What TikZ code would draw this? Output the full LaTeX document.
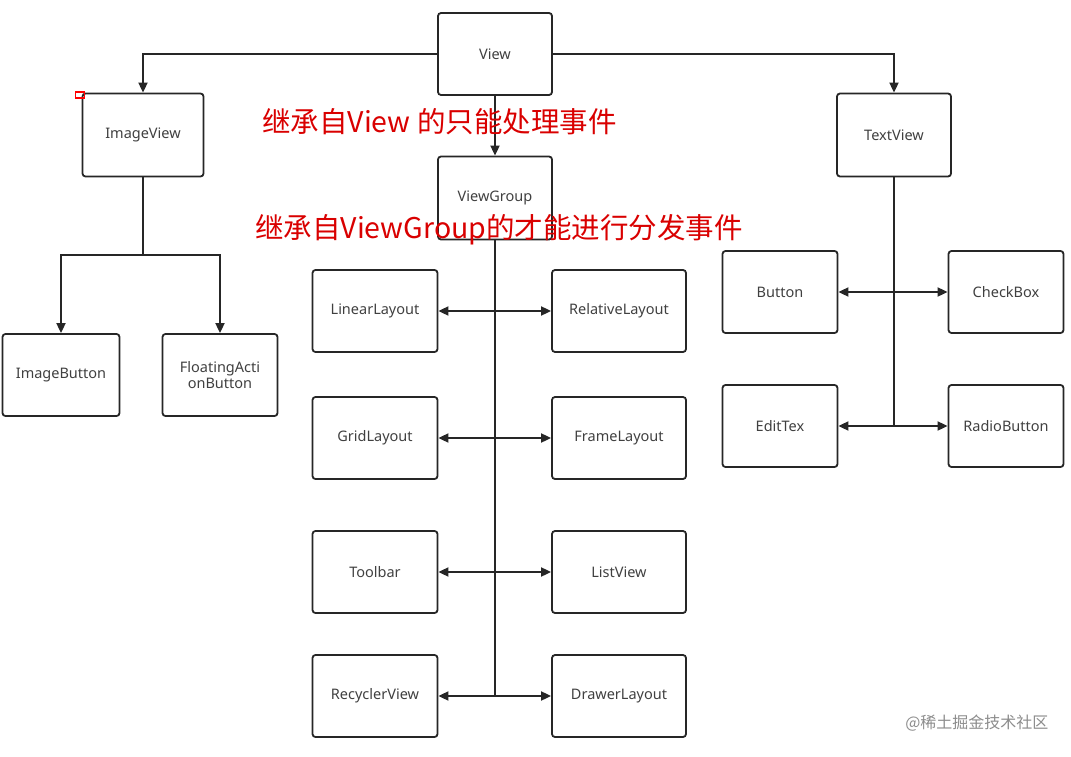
\documentclass[tikz,border=0pt]{standalone}
\usepackage{fontspec}
\setmainfont{Noto Sans}
\newfontfamily\cjk{Noto Sans CJK SC}
\usetikzlibrary{arrows.meta}
\begin{document}
\begin{tikzpicture}[x=1pt,y=-1pt,
  box/.style={draw=black!85,line width=1.8pt,rounded corners=3pt,fill=white,font=\fontsize{14.5}{16}\selectfont,text=black!75,align=center},
  ln/.style={draw=black!85,line width=1.8pt},
  ar/.style={ln,-{Triangle[length=10pt,width=9pt]}},
  dar/.style={ln,{Triangle[length=10pt,width=9pt]}-{Triangle[length=10pt,width=9pt]}},
  red/.style={text=red!85!black,font=\cjk\fontsize{28.5}{30}\selectfont}]
\useasboundingbox (0,0) rectangle (1071,757);
\node[box,minimum width=114pt,minimum height=82pt] (view) at (495,54) {View};
\node[box,minimum width=121pt,minimum height=83pt] (iv) at (143,135) {ImageView};
\node[box,minimum width=114pt,minimum height=83pt] (tv) at (894,135) {TextView};
\node[box,minimum width=114pt,minimum height=83pt] (vg) at (495,198) {ViewGroup};
\node[box,minimum width=117pt,minimum height=82pt] (ib) at (61,375) {ImageButton};
\node[box,minimum width=115pt,minimum height=82pt] (fab) at (220,375) {FloatingActi\\onButton};
\foreach \n/\l/\r/\y in {a/LinearLayout/RelativeLayout/311,b/GridLayout/FrameLayout/438,c/Toolbar/ListView/572,d/RecyclerView/DrawerLayout/696}{
  \node[box,minimum width=125pt,minimum height=82pt] (L\n) at (375,\y) {\l};
  \node[box,minimum width=134pt,minimum height=82pt] (R\n) at (619,\y) {\r};
}
\node[box,minimum width=115pt,minimum height=82pt] (btn) at (780,292) {Button};
\node[box,minimum width=115pt,minimum height=82pt] (cb) at (1006,292) {CheckBox};
\node[box,minimum width=115pt,minimum height=82pt] (et) at (780,426) {EditTex};
\node[box,minimum width=115pt,minimum height=82pt] (rb) at (1006,426) {RadioButton};
% View connectors
\draw[ar] (view.west) -| (iv.north);
\draw[ar] (view.east) -| (tv.north);
\draw[ar] (view.south) -- (vg.north);
% ImageView
\coordinate (ij) at (143,255);
\draw[ln] (iv.south) -- (ij);
\draw[ar] (ij) -| (ib.north);
\draw[ar] (ij) -| (fab.north);
% ViewGroup trunk
\coordinate (vb) at (495,696);
\draw[ln] (vg.south) -- (vb);
\foreach \n in {a,b,c,d}{\draw[dar] (L\n.east) -- (R\n.west);}
% TextView trunk
\coordinate (tb) at (894,426);
\draw[ln] (tv.south) -- (tb);
\draw[dar] (btn.east) -- (cb.west);
\draw[dar] (et.east) -- (rb.west);
% red texts
\node[red,anchor=west,inner sep=0pt] (t1) at (262,122) {继承自View 的只能处理事件};
\node[red,anchor=west,inner sep=0pt] (t2) at (255,230) {继承自ViewGroup的才能进行分发事件};
\node[draw=red,line width=1.5pt,minimum width=9pt,minimum height=6pt,inner sep=0pt] (mk) at (80,95) {};
\node[anchor=east,text=black!45,font=\cjk\fontsize{16}{18}\selectfont] (wm) at (1052,723) {@稀土掘金技术社区};
\end{tikzpicture}
\end{document}
